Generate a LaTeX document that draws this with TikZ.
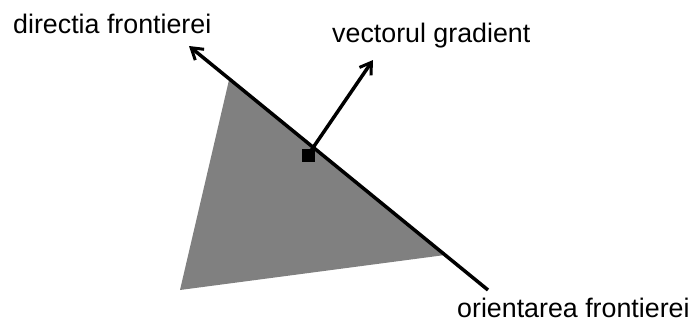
\documentclass[tikz,border=0pt]{standalone}
\usepackage{fontspec}
\setmainfont{Liberation Sans}
\usetikzlibrary{arrows.meta}
\definecolor{regiongray}{HTML}{808080}
\tikzset{
  label text/.style={anchor=base west, inner sep=0pt, font=\fontsize{26.8}{30}\selectfont},
  thick line/.style={line width=3.5pt, draw=black},
  arrowtip/.style={-{Straight Barb[length=11pt,width=14pt,line width=3pt]}},
  marker/.style={fill=black, minimum size=13pt, inner sep=0pt}
}
\begin{document}
\begin{tikzpicture}[x=1pt,y=-1pt]
\useasboundingbox (0,0) rectangle (692,322);
% region
\fill[regiongray] (229,80) -- (445,255) -- (180,290) -- cycle;
% border direction line
\coordinate (borderend) at (488,290);
\coordinate (bordertip) at (189,46);
\draw[thick line, arrowtip] (borderend) -- (bordertip);
% gradient
\node[marker] (point) at (308,155) {};
\coordinate (gradtip) at (373,60);
\draw[thick line, arrowtip] (point.center) -- (gradtip);
% labels
\node[label text] (dirlabel) at (13,33) {directia frontierei};
\node[label text] (gradlabel) at (332,42) {vectorul gradient};
\node[label text] (orientlabel) at (457,317) {orientarea frontierei};
\end{tikzpicture}
\end{document}
